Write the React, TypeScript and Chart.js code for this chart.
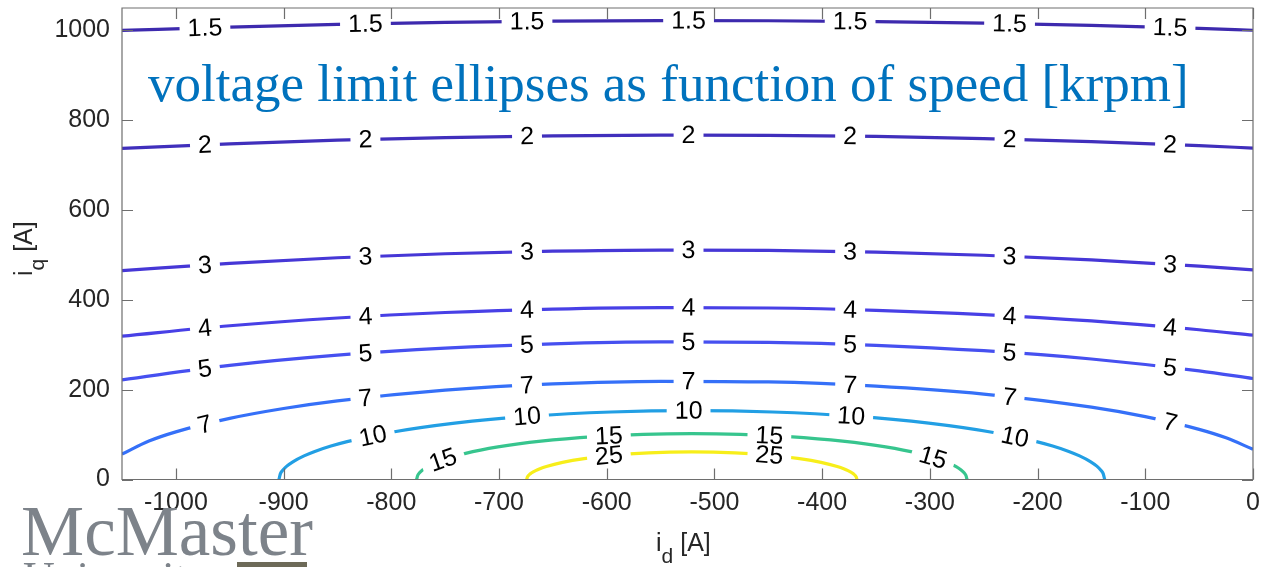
import React, { useEffect, useRef } from "react";
import { Chart, registerables } from "chart.js";

Chart.register(...registerables);

// ---- axes ----
const X_MIN = -1050;
const X_MAX = 0;
const Y_MIN = 0;
const Y_MAX = 1050;
const X_TICKS = [-1000, -900, -800, -700, -600, -500, -400, -300, -200, -100, 0];
const Y_TICKS = [0, 200, 400, 600, 800, 1000];

const TITLE = "voltage limit ellipses as function of speed [krpm]";

// ---- contour levels (speed, krpm) ----
const LEVELS = ["1.5", "2", "3", "4", "5", "7", "10", "15", "25"];
const LEVEL_COLORS = [
  "#3d2aae",
  "#402fbc",
  "#4637d6",
  "#4840e6",
  "#4650f0",
  "#3570f8",
  "#229fe4",
  "#37c58e",
  "#f7ee1a",
];

// wide contours: sampled i_d positions
const WIDE_X = [-1050, -950, -850, -750, -650, -550, -450, -350, -250, -150, -50, 0];
const IQ_1_5 = [1000, 1007.5, 1013.5, 1017.9, 1020.7, 1022, 1021.6, 1019.7, 1016.2, 1011.2, 1004.5, 1000.5];
const IQ_2 = [737.2, 747.6, 755.6, 761.5, 765.3, 766.9, 766.5, 763.9, 759.3, 752.5, 743.5, 738.1];
const IQ_3 = [465.1, 481.3, 493.8, 502.7, 508.4, 510.9, 510.2, 506.4, 499.4, 489, 475, 466.6];
const IQ_4 = [319.2, 342.4, 359.7, 371.9, 379.5, 382.8, 381.9, 376.8, 367.3, 353.1, 333.5, 321.3];
const IQ_5 = [221.9, 254.1, 276.9, 292.6, 302.2, 306.4, 305.3, 298.9, 286.8, 268.3, 241.9, 224.9];

const ID_7 = [-1050, -1025, -1000, -950, -900, -850, -750, -650, -550, -450, -350, -250, -150, -100, -50, -25, 0];
const IQ_7 = [56.5, 85.6, 106.1, 136.1, 158.1, 175.1, 198.9, 212.8, 218.7, 217.2, 208, 190.3, 161.1, 140, 111.6, 92.7, 67.3];

const ID_10 = [-904.3, -903, -901, -897, -891, -881, -871, -856, -841, -801, -741, -671, -596, -521, -446, -371, -301, -241, -201, -186, -171, -161, -151, -145, -141, -139, -137.7];
const IQ_10 = [0, 12.6, 20.1, 29.8, 40, 52.6, 62.5, 74.5, 84.4, 104.7, 125.5, 141.1, 150.3, 153.3, 150.3, 141.1, 125.5, 104.7, 84.4, 74.5, 62.5, 52.6, 40, 29.8, 20.1, 12.6, 0];

const ID_15 = [-776.5, -775.5, -774, -771, -766, -759, -751, -731, -701, -661, -611, -566, -521, -476, -431, -381, -341, -311, -291, -283, -276, -271, -268, -266.5, -265.5];
const IQ_15 = [0, 9.0, 14.3, 21.1, 29, 37.2, 44.5, 58.2, 72.5, 85.5, 95.6, 100.6, 102.2, 100.6, 95.6, 85.5, 72.5, 58.2, 44.5, 37.2, 29, 21.1, 14.3, 9.0, 0];

const ID_25 = [-674.3, -673.7, -672, -670, -666, -662, -656, -641, -621, -596, -561, -521, -481, -446, -421, -401, -386, -380, -376, -372, -370, -368.3, -367.7];
const IQ_25 = [0, 5.4, 10.6, 14.4, 19.9, 24.1, 29, 38.1, 46.5, 53.5, 59.2, 61.3, 59.2, 53.5, 46.5, 38.1, 29, 24.1, 19.9, 14.4, 10.6, 5.4, 0];

// label positions along i_d
const WIDE_LABEL_X = [-973, -824, -674, -524, -374, -226, -77];
const LABEL_X_10 = [-817, -674, -524, -373, -221];
const LABEL_X_15 = [-752, -598, -449, -297];
const LABEL_X_25 = [-598, -449];

type Contour = { level: string; color: string; xs: number[]; ys: number[]; labelXs: number[] };

const CONTOURS: Contour[] = [
  { level: LEVELS[0], color: LEVEL_COLORS[0], xs: WIDE_X, ys: IQ_1_5, labelXs: WIDE_LABEL_X },
  { level: LEVELS[1], color: LEVEL_COLORS[1], xs: WIDE_X, ys: IQ_2, labelXs: WIDE_LABEL_X },
  { level: LEVELS[2], color: LEVEL_COLORS[2], xs: WIDE_X, ys: IQ_3, labelXs: WIDE_LABEL_X },
  { level: LEVELS[3], color: LEVEL_COLORS[3], xs: WIDE_X, ys: IQ_4, labelXs: WIDE_LABEL_X },
  { level: LEVELS[4], color: LEVEL_COLORS[4], xs: WIDE_X, ys: IQ_5, labelXs: WIDE_LABEL_X },
  { level: LEVELS[5], color: LEVEL_COLORS[5], xs: ID_7, ys: IQ_7, labelXs: WIDE_LABEL_X },
  { level: LEVELS[6], color: LEVEL_COLORS[6], xs: ID_10, ys: IQ_10, labelXs: LABEL_X_10 },
  { level: LEVELS[7], color: LEVEL_COLORS[7], xs: ID_15, ys: IQ_15, labelXs: LABEL_X_15 },
  { level: LEVELS[8], color: LEVEL_COLORS[8], xs: ID_25, ys: IQ_25, labelXs: LABEL_X_25 },
];

const SANS = '"Liberation Sans", Arial, Helvetica, sans-serif';
const SERIF = '"Liberation Serif", "Times New Roman", serif';
const TEXT_COLOR = "#262626";

function interp(xs: number[], ys: number[], x: number): number {
  if (x <= xs[0]) return ys[0];
  for (let i = 1; i < xs.length; i++) {
    if (x <= xs[i]) {
      const t = (x - xs[i - 1]) / (xs[i] - xs[i - 1]);
      return ys[i - 1] + t * (ys[i] - ys[i - 1]);
    }
  }
  return ys[ys.length - 1];
}

const contourLabelPlugin = {
  id: "contourLabels",
  afterDatasetsDraw(chart: any) {
    const ctx = chart.ctx as CanvasRenderingContext2D;
    const xs = chart.scales.x;
    const ys = chart.scales.y;
    ctx.save();
    ctx.font = `25px ${SANS}`;
    ctx.textAlign = "center";
    ctx.textBaseline = "middle";
    CONTOURS.forEach((c) => {
      c.labelXs.forEach((lx) => {
        const ly = interp(c.xs, c.ys, lx);
        const px = xs.getPixelForValue(lx);
        const py = ys.getPixelForValue(ly);
        const x1 = lx - 8;
        const x2 = lx + 8;
        const ang = Math.atan2(
          ys.getPixelForValue(interp(c.xs, c.ys, x2)) - ys.getPixelForValue(interp(c.xs, c.ys, x1)),
          xs.getPixelForValue(x2) - xs.getPixelForValue(x1)
        );
        const w = ctx.measureText(c.level).width;
        ctx.save();
        ctx.translate(px, py);
        ctx.rotate(ang);
        ctx.fillStyle = "#ffffff";
        ctx.fillRect(-w / 2 - 8, -10, w + 16, 20);
        ctx.fillStyle = "#000000";
        ctx.fillText(c.level, 0, 1);
        ctx.restore();
      });
    });
    ctx.restore();
  },
};

function drawSubLabel(
  ctx: CanvasRenderingContext2D,
  main: string,
  sub: string,
  rest: string,
  x: number,
  y: number
) {
  ctx.font = `25px ${SANS}`;
  ctx.fillText(main, x, y);
  let w = ctx.measureText(main).width;
  ctx.font = `21px ${SANS}`;
  ctx.fillText(sub, x + w, y + 12);
  w += ctx.measureText(sub).width;
  ctx.font = `25px ${SANS}`;
  ctx.fillText(rest, x + w, y);
}

const framePlugin = {
  id: "frame",
  afterDraw(chart: any) {
    const ctx = chart.ctx as CanvasRenderingContext2D;
    const a = chart.chartArea;
    const xs = chart.scales.x;
    const ys = chart.scales.y;
    const tl = 11;
    ctx.save();
    ctx.strokeStyle = "#6e6e6e";
    ctx.lineWidth = 1.2;
    ctx.beginPath();
    ctx.rect(a.left, a.top, a.right - a.left, a.bottom - a.top);
    X_TICKS.forEach((v) => {
      const p = Math.round(xs.getPixelForValue(v)) + 0.5;
      ctx.moveTo(p, a.bottom);
      ctx.lineTo(p, a.bottom - tl);
      ctx.moveTo(p, a.top);
      ctx.lineTo(p, a.top + tl);
    });
    Y_TICKS.forEach((v) => {
      const p = Math.round(ys.getPixelForValue(v)) + 0.5;
      ctx.moveTo(a.left, p);
      ctx.lineTo(a.left + tl, p);
      ctx.moveTo(a.right, p);
      ctx.lineTo(a.right - tl, p);
    });
    ctx.stroke();

    // title inside the plot
    ctx.fillStyle = "#0072bd";
    ctx.font = `53px ${SERIF}`;
    ctx.textAlign = "left";
    ctx.textBaseline = "alphabetic";
    ctx.fillText(TITLE, 148, 101);

    // axis labels
    ctx.fillStyle = TEXT_COLOR;
    drawSubLabel(ctx, "i", "d", " [A]", 656, 551);
    ctx.save();
    ctx.translate(32, 276);
    ctx.rotate(-Math.PI / 2);
    drawSubLabel(ctx, "i", "q", " [A]", 0, 0);
    ctx.restore();

    // logo
    ctx.fillStyle = "#7d838a";
    ctx.font = `71px ${SERIF}`;
    ctx.fillText("McMaster", 21, 555);
    ctx.font = `44px ${SERIF}`;
    ctx.fillText("University", 23, 592);
    ctx.fillStyle = "#6d6a58";
    ctx.fillRect(237, 562, 70, 5);
    ctx.restore();
  },
};

export default function App() {
  const ref = useRef<HTMLCanvasElement>(null);
  useEffect(() => {
    const canvas = ref.current;
    if (!canvas) return;
    const tickFont = { family: SANS, size: 25 };
    const chart = new Chart(canvas, {
      type: "scatter",
      data: {
        datasets: CONTOURS.map((c) => ({
          label: c.level,
          data: c.xs.map((x, i) => ({ x, y: c.ys[i] })),
          showLine: true,
          borderColor: c.color,
          backgroundColor: c.color,
          borderWidth: 3.2,
          pointRadius: 0,
          pointHoverRadius: 0,
          cubicInterpolationMode: "monotone" as const,
          fill: false,
          clip: 0,
        })),
      },
      options: {
        responsive: false,
        animation: false,
        devicePixelRatio: 1,
        events: [],
        layout: { padding: { left: 0, right: 16, top: 8, bottom: 0 } },
        plugins: {
          legend: { display: false },
          tooltip: { enabled: false },
          title: { display: false },
        },
        scales: {
          x: {
            type: "linear",
            min: X_MIN,
            max: X_MAX,
            grid: { display: false, drawTicks: false },
            border: { display: false },
            ticks: {
              font: tickFont,
              color: TEXT_COLOR,
              padding: 9,
              maxRotation: 0,
              autoSkip: false,
              callback: (v: any) => String(v),
            },
            afterBuildTicks: (s: any) => {
              s.ticks = X_TICKS.map((v) => ({ value: v }));
            },
            afterFit: (s: any) => {
              s.height = 87.5;
              s.paddingLeft = 0;
              s.paddingRight = 0;
              s.paddingTop = 0;
              s.paddingBottom = 0;
            },
          },
          y: {
            type: "linear",
            min: Y_MIN,
            max: Y_MAX,
            grid: { display: false, drawTicks: false },
            border: { display: false },
            ticks: {
              font: tickFont,
              color: TEXT_COLOR,
              padding: 12,
              autoSkip: false,
              callback: (v: any) => String(v),
            },
            afterBuildTicks: (s: any) => {
              s.ticks = Y_TICKS.map((v) => ({ value: v }));
            },
            afterFit: (s: any) => {
              s.width = 122;
              s.paddingLeft = 0;
              s.paddingRight = 0;
              s.paddingTop = 0;
              s.paddingBottom = 0;
            },
          },
        },
      },
      plugins: [contourLabelPlugin, framePlugin],
    } as any);
    return () => chart.destroy();
  }, []);

  return (
    <div
      style={{
        position: "fixed",
        left: 0,
        top: 0,
        width: 1269,
        height: 567,
        background: "#ffffff",
        overflow: "hidden",
      }}
    >
      <canvas ref={ref} width={1269} height={567} style={{ width: 1269, height: 567, display: "block" }} />
    </div>
  );
}
